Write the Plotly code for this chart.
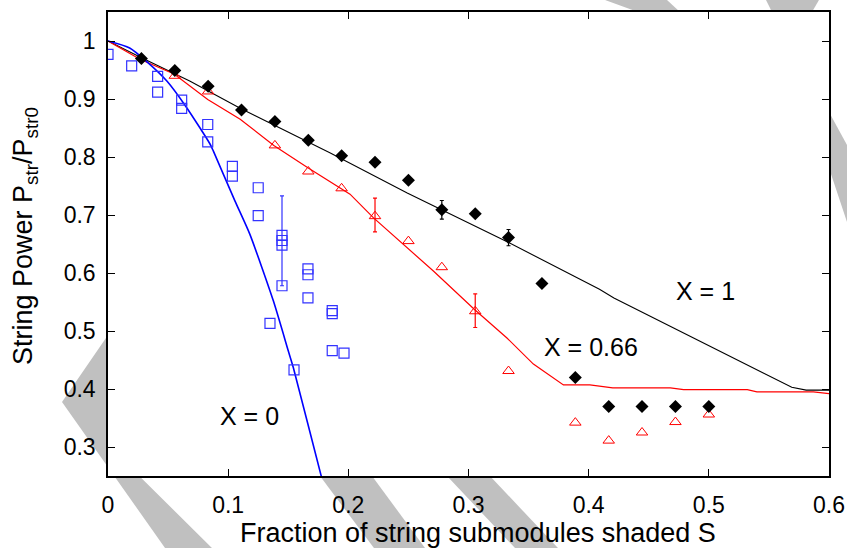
import plotly.graph_objects as go

# ---------------- data ----------------
# X = 1 (black diamonds)
blk_x = [0.0278, 0.0556, 0.0833, 0.1111, 0.1389, 0.1667, 0.1944, 0.2222, 0.25,
         0.2778, 0.3056, 0.3333, 0.3611, 0.3889, 0.4167, 0.4444, 0.4722, 0.5]
blk_y = [0.970, 0.949, 0.922, 0.881, 0.861, 0.829, 0.802, 0.791, 0.760,
         0.709, 0.702, 0.661, 0.582, 0.420, 0.370, 0.370, 0.370, 0.370]
blk_err_x = [0.2778, 0.3333]
blk_err_y = [0.709, 0.661]
blk_err = [0.016, 0.014]

# X = 0.66 (red triangles)
red_x = [0.0556, 0.0833, 0.1389, 0.1667, 0.1944, 0.2222, 0.25, 0.2778, 0.3056,
         0.3333, 0.3889, 0.4167, 0.4444, 0.4722, 0.5]
red_y = [0.940, 0.913, 0.820, 0.775, 0.746, 0.698, 0.655, 0.610, 0.534,
         0.431, 0.342, 0.311, 0.325, 0.343, 0.356]
red_err_x = [0.2222, 0.3056]
red_err_y = [0.700, 0.535]
red_err = [0.029, 0.029]

# X = 0 (blue squares)
blu_x = [0.0, 0.0197, 0.0413, 0.0413, 0.0613, 0.0613, 0.0830, 0.0830, 0.1035, 0.1035,
         0.1250, 0.1250, 0.1348, 0.1448, 0.1448, 0.1448, 0.1448, 0.1548, 0.1664,
         0.1664, 0.1664, 0.1866, 0.1866, 0.1866, 0.1964]
blu_y = [0.977, 0.957, 0.939, 0.912, 0.898, 0.884, 0.856, 0.826, 0.784, 0.767,
         0.747, 0.699, 0.513, 0.665, 0.656, 0.648, 0.578, 0.433, 0.607,
         0.597, 0.557, 0.535, 0.530, 0.466, 0.462]
blu_err_x = [0.1448]
blu_err_y = [0.6555]
blu_err = [0.0775]

# model curves
line1_x = [0.0, 0.027, 0.068, 0.110, 0.185, 0.239, 0.249, 0.333, 0.409, 0.421, 0.569, 0.581, 0.600]
line1_y = [1.0, 0.972, 0.931, 0.884, 0.807, 0.750, 0.738, 0.653, 0.572, 0.557, 0.403, 0.398, 0.398]

line066_x = [0.0, 0.027, 0.055, 0.083, 0.110, 0.138, 0.166, 0.2014, 0.221, 0.260, 0.271,
             0.305, 0.332, 0.354, 0.379, 0.401, 0.420, 0.468, 0.479, 0.532, 0.540, 0.587, 0.600]
line066_y = [1.0, 0.968, 0.943, 0.899, 0.865, 0.820, 0.782, 0.736, 0.695, 0.624, 0.603,
             0.537, 0.488, 0.443, 0.407, 0.407, 0.402, 0.402, 0.399, 0.399, 0.395, 0.395, 0.392]

line0_x = [0.0, 0.018, 0.032, 0.049, 0.0655, 0.085, 0.0877, 0.1057, 0.118, 0.1376, 0.150, 0.1542, 0.1778, 0.182]
line0_y = [1.0, 0.988, 0.965, 0.931, 0.885, 0.822, 0.810, 0.724, 0.667, 0.552, 0.466, 0.437, 0.247, 0.215]

x_ticks = [0, 0.1, 0.2, 0.3, 0.4, 0.5, 0.6]
x_tick_text = ["0", "0.1", "0.2", "0.3", "0.4", "0.5", "0.6"]
y_ticks = [0.3, 0.4, 0.5, 0.6, 0.7, 0.8, 0.9, 1.0]
y_tick_text = ["0.3", "0.4", "0.5", "0.6", "0.7", "0.8", "0.9", "1"]

labels = ["X = 1", "X = 0.66", "X = 0"]
label_x = [0.4976, 0.402, 0.118]
label_y = [0.569, 0.472, 0.353]

# ---------------- figure ----------------
W, H = 847, 548
L, R, T, B = 108, 18, 12, 72
PW, PH = W - L - R, H - T - B
FONT = "Arial, Liberation Sans, sans-serif"


def px(xp, yp):
    return (xp - L) / PW, (H - B - yp) / PH


def poly(points):
    pts = [px(a, b) for a, b in points]
    return "M " + " L ".join(f"{a:.4f},{b:.4f}" for a, b in pts) + " Z"


fig = go.Figure()

fig.add_trace(go.Scatter(x=line1_x, y=line1_y, mode="lines",
                         line=dict(color="black", width=1.1), hoverinfo="skip"))
fig.add_trace(go.Scatter(x=line066_x, y=line066_y, mode="lines",
                         line=dict(color="#ff0000", width=1.2), hoverinfo="skip"))
fig.add_trace(go.Scatter(x=line0_x, y=line0_y, mode="lines", line_shape="spline",
                         line=dict(color="#0000ff", width=1.6, smoothing=0.6), hoverinfo="skip"))

fig.add_trace(go.Scatter(x=blu_x, y=blu_y, mode="markers",
                         marker=dict(symbol="square-open", size=10, color="#3333ff",
                                     line=dict(width=1.2))))
fig.add_trace(go.Scatter(x=blu_err_x, y=blu_err_y, mode="markers",
                         marker=dict(size=1, color="rgba(0,0,0,0)"),
                         error_y=dict(type="data", array=blu_err, color="#3333ff",
                                      thickness=1.2, width=2)))

fig.add_trace(go.Scatter(x=red_x, y=red_y, mode="markers",
                         marker=dict(symbol="triangle-up-open", size=10, color="#ff0000",
                                     line=dict(width=1))))
fig.add_trace(go.Scatter(x=red_err_x, y=red_err_y, mode="markers",
                         marker=dict(size=1, color="rgba(0,0,0,0)"),
                         error_y=dict(type="data", array=red_err, color="#ff0000",
                                      thickness=1.2, width=2)))

fig.add_trace(go.Scatter(x=blk_x, y=blk_y, mode="markers",
                         marker=dict(symbol="diamond", size=10, color="black")))
fig.add_trace(go.Scatter(x=blk_err_x, y=blk_err_y, mode="markers",
                         marker=dict(size=1, color="rgba(0,0,0,0)"),
                         error_y=dict(type="data", array=blk_err, color="black",
                                      thickness=1.2, width=2)))

# grey watermark stripes (only visible in the margins)
stripe_color = "#c0c0c0"
stripes = [
    [(108, 335), (62, 402), (165, 548), (212, 548), (108, 445)],
    [(320, 476), (372, 476), (425, 548), (374, 548)],
    [(447, 476), (490, 476), (558, 548), (515, 548)],
    [(605, 0), (667, 0), (680, 12), (638, 12)],
    [(766, 0), (819, 0), (812, 12), (772, 12)],
    [(829, 112), (847, 145), (847, 222), (829, 168)],
]
shapes = []
for s in stripes:
    shapes.append(dict(type="path", xref="paper", yref="paper", path=poly(s),
                       fillcolor=stripe_color, line=dict(width=0), layer="below"))
shapes.append(dict(type="rect", xref="paper", yref="paper", x0=0, x1=1, y0=0, y1=1,
                   fillcolor="white", line=dict(width=0), layer="below"))

annotations = []
for t, ax_, ay_ in zip(labels, label_x, label_y):
    annotations.append(dict(x=ax_, y=ay_, xref="x", yref="y", text=t, showarrow=False,
                            xanchor="center", yanchor="middle",
                            font=dict(size=25, color="black", family=FONT)))
annotations.append(dict(x=px(477.5, 0)[0], y=px(0, 533)[1], xref="paper", yref="paper",
                        text="Fraction of string submodules shaded S", showarrow=False,
                        xanchor="center", yanchor="middle",
                        font=dict(size=27, color="black", family=FONT)))
annotations.append(dict(x=px(25, 0)[0], y=px(0, 236)[1], xref="paper", yref="paper",
                        text="String Power P<sub>str</sub>/P<sub>str0</sub>", showarrow=False,
                        textangle=-90, xanchor="center", yanchor="middle",
                        font=dict(size=27, color="black", family=FONT)))

axis_common = dict(showline=True, linecolor="black", linewidth=1.5, mirror="ticks",
                   ticks="inside", ticklen=7, tickwidth=1.3, tickcolor="black",
                   showgrid=False, zeroline=False, automargin=False,
                   tickfont=dict(size=23, color="black", family=FONT))

fig.update_layout(
    width=W, height=H, autosize=False,
    margin=dict(l=L, r=R, t=T, b=B, pad=0, autoexpand=False),
    paper_bgcolor="white", plot_bgcolor="white",
    showlegend=False,
    shapes=shapes, annotations=annotations,
    xaxis=dict(range=[0, 0.6], tickvals=x_ticks, ticktext=x_tick_text,
               ticklabelstandoff=8, **axis_common),
    yaxis=dict(range=[0.25, 1.05], tickvals=y_ticks, ticktext=y_tick_text,
               ticklabelstandoff=6, **axis_common),
)

fig.write_html("out.html")
